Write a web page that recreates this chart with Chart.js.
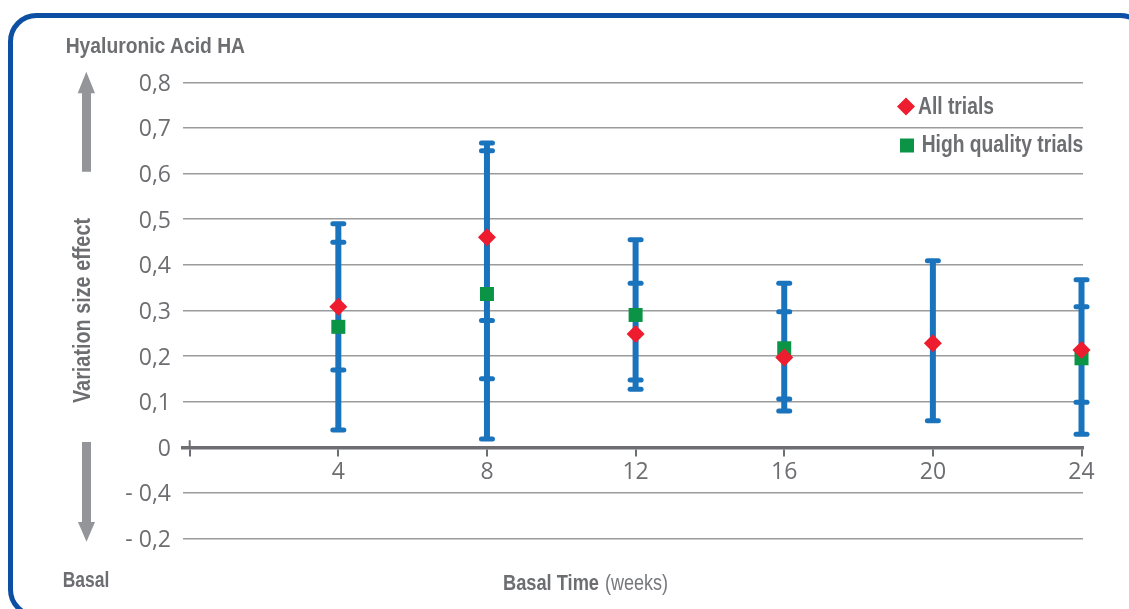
<!DOCTYPE html>
<html>
<head>
<meta charset="utf-8">
<script src="https://cdn.jsdelivr.net/npm/chart.js@4.4.1/dist/chart.umd.min.js"></script>
<style>
  html, body { margin: 0; padding: 0; background: #ffffff; }
  #wrap { position: relative; width: 1129px; height: 609px; overflow: hidden; background: #fff; }
  #chart { position: absolute; left: 0; top: 0; }
  #overlay { position: absolute; left: 0; top: 0; pointer-events: none; }
  .bold { font-family: "Liberation Sans Narrow", "Liberation Sans", Arial, sans-serif; font-weight: bold; fill: #6d6e71; }
  .reg { font-family: "Liberation Sans Narrow", "Liberation Sans", Arial, sans-serif; font-weight: normal; fill: #77787b; }
</style>
</head>
<body>
<div id="wrap">
  <canvas id="chart" width="1129" height="609"></canvas>
  <svg id="overlay" width="1129" height="609" xmlns="http://www.w3.org/2000/svg">
    <rect x="10.5" y="15.5" width="1136" height="600" rx="26" ry="26" fill="none" stroke="#0d4fa2" stroke-width="5"/>
    <polygon points="86.3,71.7 95,93.3 91,93.3 91,171.7 82,171.7 82,93.3 77.7,93.3" fill="#939598"/>
    <polygon points="82,442 91,442 91,522 95,522 86.5,541.7 78,522 82,522" fill="#939598"/>
    <text class="bold" x="65.7" y="53.3" font-size="22" textLength="179.3" lengthAdjust="spacingAndGlyphs">Hyaluronic Acid HA</text>
    <text class="bold" transform="translate(89.5,310.5) rotate(-90)" x="0" y="0" text-anchor="middle" font-size="24" textLength="185" lengthAdjust="spacingAndGlyphs">Variation size effect</text>
    <text class="bold" x="62.7" y="587" font-size="22.5" textLength="46.6" lengthAdjust="spacingAndGlyphs">Basal</text>
    <text class="bold" x="503" y="590" font-size="22" textLength="96" lengthAdjust="spacingAndGlyphs">Basal Time</text>
    <text class="reg" x="605" y="590" font-size="22" textLength="63" lengthAdjust="spacingAndGlyphs">(weeks)</text>
    <polygon points="906,97.5 915,106.5 906,115.5 897,106.5" fill="#ed1c2e"/>
    <text class="bold" x="918" y="114" font-size="23" textLength="76" lengthAdjust="spacingAndGlyphs">All trials</text>
    <rect x="900" y="138.5" width="14" height="14" fill="#0b9445"/>
    <text class="bold" x="921.7" y="151.7" font-size="23" textLength="161.6" lengthAdjust="spacingAndGlyphs">High quality trials</text>
  </svg>
</div>
<script>
// ---- data ----
const weeks = [4, 8, 12, 16, 20, 24];
const xTickValues = [0, 4, 8, 12, 16, 20, 24];

const allTrials = [0.308, 0.4605, 0.2485, 0.1965, 0.228, 0.213];
const allLow    = [0.038, 0.018, 0.127, 0.0796, 0.058, 0.0285];
const allHigh   = [0.490, 0.667, 0.4546, 0.3596, 0.409, 0.367];

const hqTrials  = [0.264, 0.336, 0.290, 0.217, null, 0.195];
const hqLow     = [0.1695, 0.150, 0.1476, 0.106, null, 0.0987];
const hqHigh    = [0.4496, 0.650, 0.3596, 0.297, null, 0.308];
// an additional interval bound drawn at week 8 in the source
const extraBound = [null, 0.2776, null, null, null, null];

// y tick values and their printed labels (as in the source)
const yTickValues = [-0.2, -0.1, 0, 0.1, 0.2, 0.3, 0.4, 0.5, 0.6, 0.7, 0.8];
const yTickLabels = ['- 0,2', '- 0,4', '0', '0,1', '0,2', '0,3', '0,4', '0,5', '0,6', '0,7', '0,8'];

const GRAY = '#6d6e71';
const BLUE = '#1a73bd';

function toPoints(values) {
  const pts = [];
  weeks.forEach((w, i) => { if (values[i] !== null) pts.push({ x: w, y: values[i] }); });
  return pts;
}

const errorBars = {
  id: 'errorBars',
  beforeDatasetsDraw(chart) {
    const ctx = chart.ctx;
    const xs = chart.scales.x, ys = chart.scales.y;
    const intervals = [[allLow, allHigh], [hqLow, hqHigh]];
    ctx.save();
    ctx.strokeStyle = BLUE;
    weeks.forEach((w, i) => {
      const px = xs.getPixelForValue(w);
      const bounds = [];
      intervals.forEach(([lo, hi]) => {
        if (lo[i] === null || hi[i] === null) return;
        bounds.push(lo[i], hi[i]);
      });
      if (extraBound[i] !== null) bounds.push(extraBound[i]);
      const top = Math.max(...bounds), bot = Math.min(...bounds);
      ctx.lineWidth = 6;
      ctx.lineCap = 'butt';
      ctx.beginPath();
      ctx.moveTo(px, ys.getPixelForValue(top));
      ctx.lineTo(px, ys.getPixelForValue(bot));
      ctx.stroke();
      ctx.lineCap = 'round';
      ctx.lineWidth = 5;
      bounds.forEach(b => {
        const py = ys.getPixelForValue(b);
        ctx.beginPath();
        ctx.moveTo(px - 5.5, py);
        ctx.lineTo(px + 5.5, py);
        ctx.stroke();
      });
    });
    // upper half of the origin tick on the zero line
    const ox = xs.getPixelForValue(0), oy = ys.getPixelForValue(0);
    ctx.strokeStyle = GRAY;
    ctx.lineCap = 'butt';
    ctx.lineWidth = 2;
    ctx.beginPath();
    ctx.moveTo(ox, oy - 7);
    ctx.lineTo(ox, oy);
    ctx.stroke();
    ctx.restore();
  }
};

new Chart(document.getElementById('chart'), {
  type: 'scatter',
  data: {
    datasets: [
      {
        label: 'All trials',
        data: toPoints(allTrials),
        pointStyle: 'rectRot',
        pointRadius: 9,
        pointHoverRadius: 9,
        borderWidth: 0,
        clip: false,
        backgroundColor: '#ed1c2e',
        borderColor: '#ed1c2e'
      },
      {
        label: 'High quality trials',
        data: toPoints(hqTrials),
        pointStyle: 'rect',
        pointRadius: 9.9,
        pointHoverRadius: 9.9,
        borderWidth: 0,
        clip: false,
        backgroundColor: '#0b9445',
        borderColor: '#0b9445'
      }
    ]
  },
  options: {
    responsive: false,
    animation: false,
    devicePixelRatio: 1,
    layout: { padding: { left: 123, top: 82.3, right: 46, bottom: 70.5 } },
    plugins: { legend: { display: false }, tooltip: { enabled: false } },
    scales: {
      x: {
        type: 'linear',
        position: { y: 0 },
        min: -0.18,
        max: 24.04,
        afterBuildTicks(scale) { scale.ticks = xTickValues.map(v => ({ value: v })); },
        grid: { display: true, drawOnChartArea: false, drawTicks: true, tickLength: 7, color: GRAY, lineWidth: 2 },
        border: { display: true, color: GRAY, width: 3.5 },
        ticks: {
          autoSkip: false,
          maxRotation: 0,
          padding: 4,
          color: GRAY,
          font: { family: 'Open Sans', size: 23 },
          callback: (v) => (v === 0 ? '' : String(v))
        }
      },
      y: {
        type: 'linear',
        position: 'left',
        min: -0.2,
        max: 0.8,
        afterFit(scale) { scale.width = 60; },
        afterBuildTicks(scale) { scale.ticks = yTickValues.map(v => ({ value: v })); },
        grid: {
          drawTicks: false,
          lineWidth: 1.4,
          color: (c) => (c.tick && Math.abs(c.tick.value) < 1e-9 ? 'rgba(0,0,0,0)' : '#9a9b9d')
        },
        border: { display: false },
        ticks: {
          autoSkip: false,
          padding: 12,
          labelOffset: 2,
          color: GRAY,
          font: { family: 'Open Sans', size: 23 },
          callback: (v) => {
            const idx = yTickValues.findIndex(t => Math.abs(t - v) < 1e-9);
            return idx >= 0 ? yTickLabels[idx] : '';
          }
        }
      }
    }
  },
  plugins: [errorBars]
});
</script>
</body>
</html>
